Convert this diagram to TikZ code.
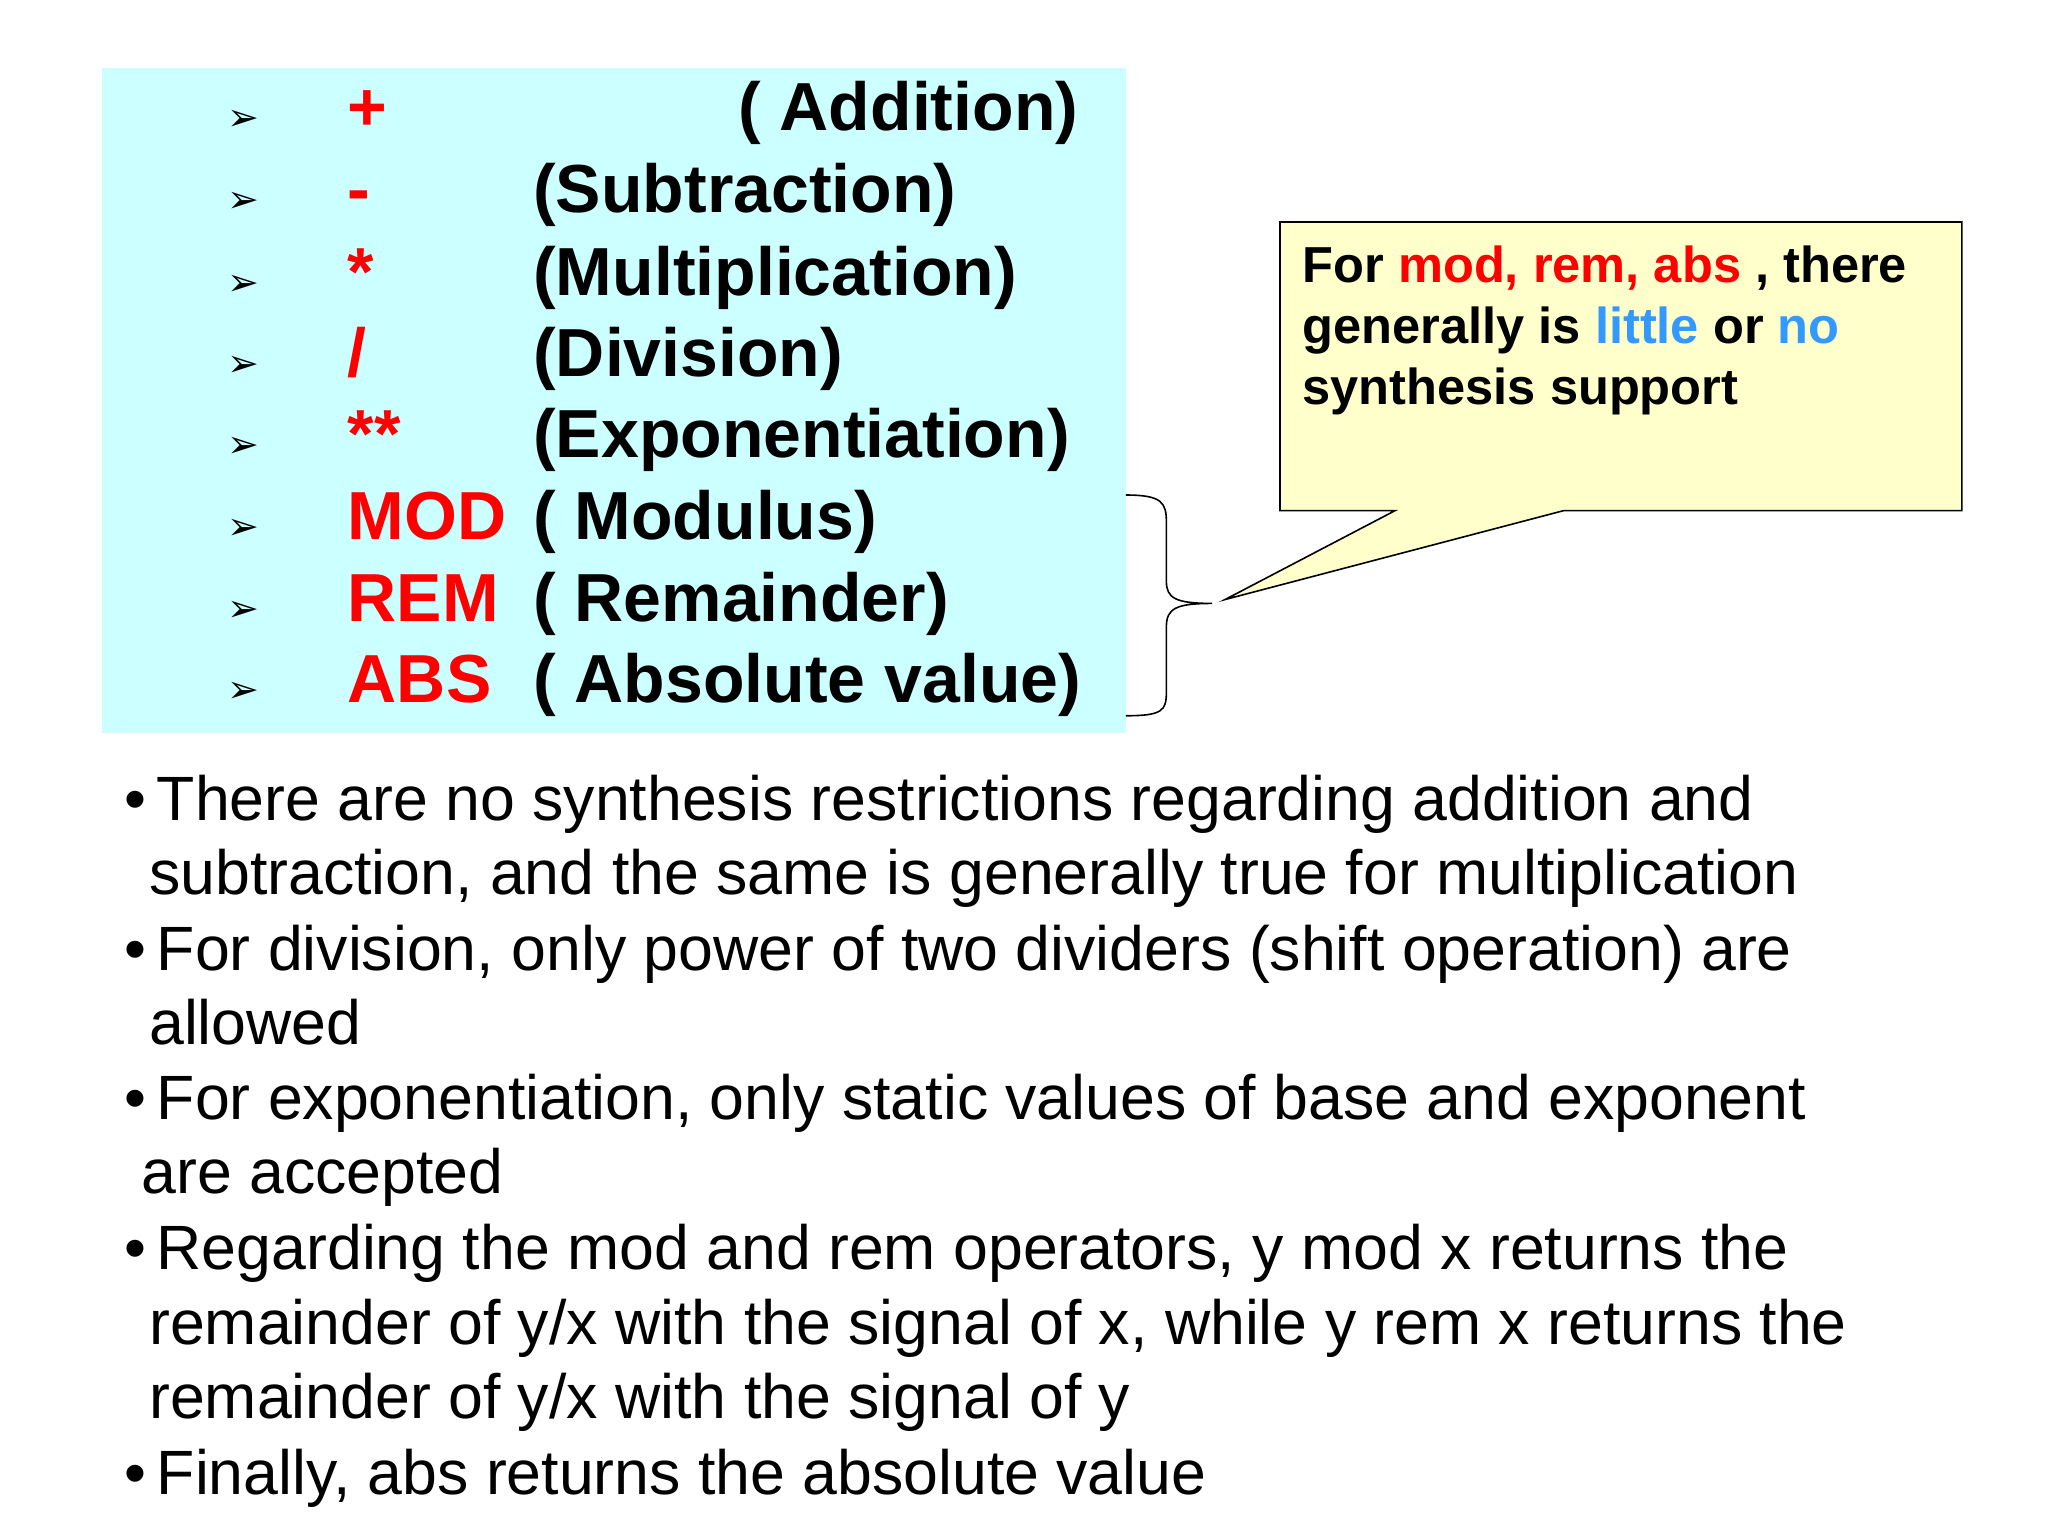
\documentclass[tikz,border=0pt]{standalone}
\usepackage{fontspec}
\setmainfont{Liberation Sans}
\newfontfamily\dv{DejaVu Sans}
\definecolor{cyanbg}{HTML}{CCFFFF}
\definecolor{note}{HTML}{FFFFCC}
\definecolor{opred}{HTML}{FF0000}
\definecolor{lblue}{HTML}{3399FF}
\begin{document}
\begin{tikzpicture}[x=0.6531pt,y=-0.6531pt,
  lst/.style={anchor=base west,font=\fontsize{34}{40}\selectfont\bfseries,inner sep=0},
  op/.style={lst,text=opred},
  arr/.style={anchor=base west,font=\dv\fontsize{19}{22}\selectfont,inner sep=0},
  bul/.style={anchor=base west,font=\fontsize{31.3}{36}\selectfont,inner sep=0},
  cal/.style={anchor=base west,font=\fontsize{25.3}{30}\selectfont\bfseries,inner sep=0}]
\useasboundingbox (0,0) rectangle (1568,1176);
\fill[white] (0,0) rectangle (1568,1176);
\fill[cyanbg] (78,52) rectangle (862,561);
\foreach \y/\o/\d/\dx [count=\i] in {100/+/( Addition)/565, 163/-/(Subtraction)/408, 226/*/(Multiplication)/408, 288/\slash/(Division)/408, 350/**/(Exponentiation)/408, 413/MOD/( Modulus)/408, 476/REM/( Remainder)/408, 538/ABS/( Absolute value)/408}{
  \node[arr] (a\i) at (174,\y) {➢};
  \node[op] (o\i) at (266,\y) {\o};
  \node[lst] (d\i) at (\dx,\y) {\d};
}
\draw[thick] (862,379) .. controls (890,379) and (893,385) .. (893,400) -- (893,445) .. controls (893,458) and (900,462) .. (928,462) coordinate (tip)
  .. controls (900,462) and (893,466) .. (893,480) -- (893,530) .. controls (893,544) and (890,548) .. (862,548);
\draw[fill=note,thick] (980,170) -- (1502,170) -- (1502,391) -- (1197,391) -- (938,459) -- (1068,391) -- (980,391) -- cycle;
\node[cal] (c1) at (997,216) {For \textcolor{opred}{mod, rem, abs} , there};
\node[cal] (c2) at (997,263) {generally is \textcolor{lblue}{little} or \textcolor{lblue}{no}};
\node[cal] (c3) at (997,310) {synthesis support};
\foreach \y/\x/\t [count=\i] in {628/95/{•\,There are no synthesis restrictions regarding addition and},
 685/114/{subtraction, and the same is generally true for multiplication},
 743/95/{•\,For division, only power of two dividers (shift operation) are},
 800/114/{allowed},
 857/95/{•\,For exponentiation, only static values of base and exponent},
 914/108/{are accepted},
 972/95/{•\,Regarding the mod and rem operators, y mod x returns the},
 1029/114/{remainder of y/x with the signal of x, while y rem x returns the},
 1086/114/{remainder of y/x with the signal of y},
 1144/95/{•\,Finally, abs returns the absolute value}}{
  \node[bul] (b\i) at (\x,\y) {\t};
}
\end{tikzpicture}
\end{document}
